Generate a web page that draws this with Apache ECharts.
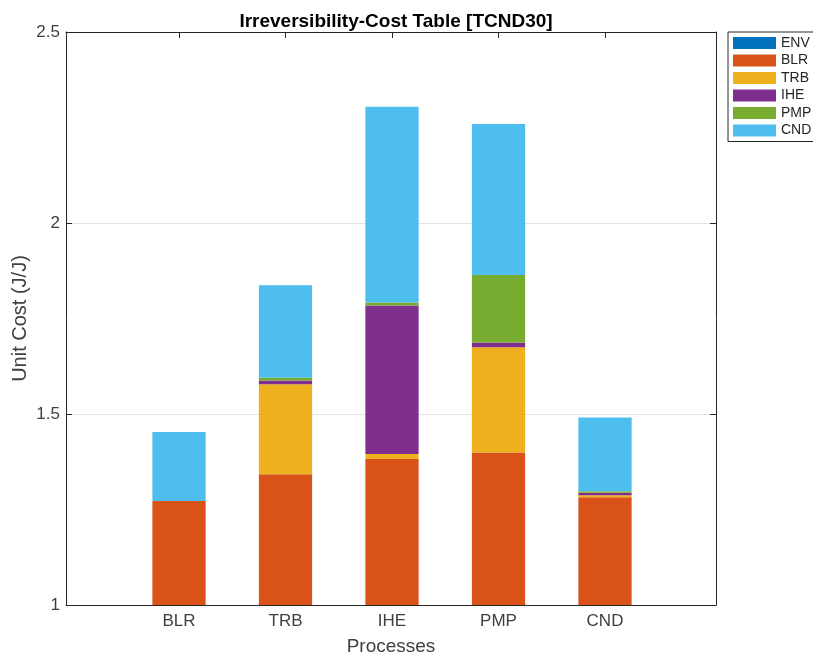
<!DOCTYPE html>
<html><head><meta charset="utf-8">
<script src="https://cdn.jsdelivr.net/npm/echarts@6/dist/echarts.min.js"></script>
<style>html,body{margin:0;padding:0;background:#fff}#c{width:813px;height:658px}</style>
</head><body><div id="c"></div>
<script>
const categories = ['BLR', 'TRB', 'IHE', 'PMP', 'CND'];
const seriesNames = ['ENV', 'BLR', 'TRB', 'IHE', 'PMP', 'CND'];
const ENV = [0, 0, 0, 0, 0];
const BLR = [1.272, 1.342, 1.382, 1.399, 1.282];
const TRB = [0, 0.236, 0.013, 0.276, 0.005];
const IHE = [0, 0.010, 0.389, 0.012, 0.007];
const PMP = [0, 0.007, 0.008, 0.177, 0.004];
const CND = [0.181, 0.242, 0.512, 0.395, 0.193];
const yTicks = [1, 1.5, 2, 2.5];
const colors = ['#0072BD', '#D95319', '#EDB120', '#7E2F8E', '#77AC30', '#4DBEEE'];

const seriesValues = [ENV, BLR, TRB, IHE, PMP, CND];
// frame (axes box) and the band area holding the categories
const W = 813, H = 658;
const frameLeft = 66, frameRight = 716, plotTop = 32, plotBottom = 605;
const band = 106.5;
const bandLeft = 179 - band / 2, bandRight = 605 + band / 2;
const axisColor = '#262626';
const labelColor = '#404040';
const font = 'Liberation Sans, Arial, sans-serif';

const chart = echarts.init(document.getElementById('c'), null, {renderer: 'canvas'});
chart.setOption({
  animation: false,
  backgroundColor: '#fff',
  title: {
    text: 'Irreversibility-Cost Table [TCND30]',
    left: (frameLeft + frameRight) / 2, top: 7, textAlign: 'center',
    textStyle: {fontFamily: font, fontSize: 19, fontWeight: 'bold', color: '#000'}
  },
  legend: {
    orient: 'vertical', left: 728, top: 32,
    itemWidth: 43, itemHeight: 12, itemGap: 3.5,
    padding: [4, 6, 4, 5],
    borderColor: axisColor, borderWidth: 1,
    icon: 'rect',
    textStyle: {fontFamily: font, fontSize: 14, color: axisColor},
    data: seriesNames
  },
  grid: [
    {left: bandLeft, right: W - bandRight, top: plotTop, bottom: H - plotBottom, outerBoundsMode: 'none', containLabel: false},
    {left: frameLeft, right: W - frameRight, top: plotTop, bottom: H - plotBottom, outerBoundsMode: 'none', containLabel: false}
  ],
  xAxis: [{
    type: 'category', gridIndex: 0, data: categories, position: 'bottom',
    axisLine: {show: false},
    axisTick: {show: true, inside: true, length: 6, alignWithLabel: true, lineStyle: {color: axisColor}},
    axisLabel: {show: true, margin: 8, fontFamily: font, fontSize: 17, color: labelColor},
    splitLine: {show: false}
  }, {
    type: 'category', gridIndex: 0, data: categories, position: 'top',
    axisLine: {show: false},
    axisTick: {show: true, inside: true, length: 6, alignWithLabel: true, lineStyle: {color: axisColor}},
    axisLabel: {show: false},
    splitLine: {show: false}
  }, {
    type: 'value', gridIndex: 1, min: 0, max: 1, position: 'bottom',
    name: 'Processes', nameLocation: 'middle', nameGap: 32, nameMoveOverlap: false,
    nameTextStyle: {fontFamily: font, fontSize: 19, color: labelColor},
    axisLine: {show: true, onZero: false, lineStyle: {color: axisColor, width: 1}},
    axisTick: {show: false}, axisLabel: {show: false}, splitLine: {show: false}
  }, {
    type: 'value', gridIndex: 1, min: 0, max: 1, position: 'top',
    axisLine: {show: true, onZero: false, lineStyle: {color: axisColor, width: 1}},
    axisTick: {show: false}, axisLabel: {show: false}, splitLine: {show: false}
  }],
  yAxis: [{
    type: 'value', gridIndex: 0, min: 1, max: 2.5, interval: 0.5, show: false
  }, {
    type: 'value', gridIndex: 1, min: 1, max: 2.5, interval: 0.5, position: 'left',
    name: 'Unit Cost (J/J)', nameLocation: 'middle', nameGap: 36, nameMoveOverlap: false,
    nameTextStyle: {fontFamily: font, fontSize: 20, color: labelColor},
    axisLine: {show: true, onZero: false, lineStyle: {color: axisColor, width: 1}},
    axisTick: {show: true, inside: true, length: 6, lineStyle: {color: axisColor}},
    axisLabel: {show: true, margin: 6, fontFamily: font, fontSize: 17, color: labelColor,
      formatter: v => (yTicks.indexOf(v) >= 0 ? String(v) : '')},
    splitLine: {show: true, lineStyle: {color: '#e3e3e3', width: 1}}
  }, {
    type: 'value', gridIndex: 1, min: 1, max: 2.5, interval: 0.5, position: 'right',
    axisLine: {show: true, onZero: false, lineStyle: {color: axisColor, width: 1}},
    axisTick: {show: true, inside: true, length: 6, lineStyle: {color: axisColor}},
    axisLabel: {show: false},
    splitLine: {show: false}
  }],
  series: seriesNames.map((name, k) => ({
    name: name, type: 'bar', stack: 'total',
    xAxisIndex: 0, yAxisIndex: 0,
    barWidth: '50%',
    itemStyle: {color: colors[k]},
    emphasis: {disabled: true},
    data: seriesValues[k]
  }))
});
</script>
</body></html>
